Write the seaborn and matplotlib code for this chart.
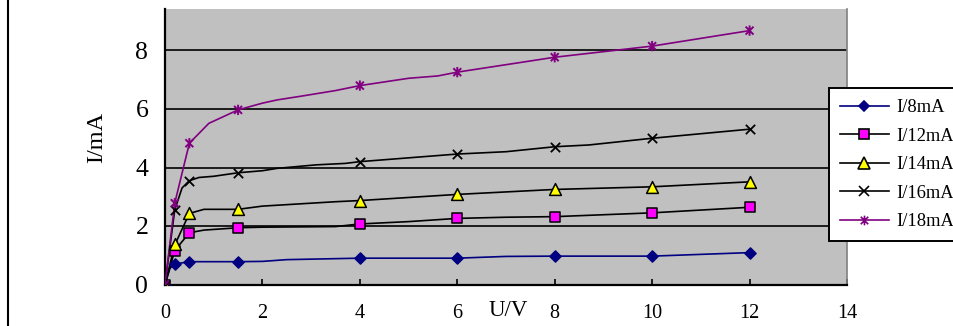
import matplotlib
matplotlib.use("Agg")
import matplotlib.pyplot as plt
import seaborn as sns
from matplotlib.lines import Line2D
from matplotlib.path import Path

# ---- data ----
mark_x = [0, 0.2, 0.5, 1.5, 4, 6, 8, 10, 12]

i8_y = [0, 0.70, 0.78, 0.78, 0.90, 0.90, 0.97, 0.97, 1.09]
i8_line_x = [0, 0.1, 0.2, 0.5, 1.5, 2.0, 2.5, 4, 6, 7, 8, 10, 12]
i8_line_y = [0, 0.55, 0.70, 0.78, 0.78, 0.79, 0.85, 0.90, 0.90, 0.96, 0.97, 0.97, 1.09]

i12_y = [0, 1.16, 1.77, 1.94, 2.07, 2.26, 2.32, 2.45, 2.64]
i12_line_x = [0, 0.2, 0.5, 0.8, 1.5, 2.0, 3.5, 4, 5, 6, 7, 8, 10, 12]
i12_line_y = [0, 1.16, 1.77, 1.86, 1.94, 1.96, 1.98, 2.07, 2.15, 2.26, 2.30, 2.32, 2.45, 2.64]

i14_y = [0, 1.40, 2.43, 2.57, 2.87, 3.08, 3.25, 3.34, 3.51]
i14_line_x = [0, 0.2, 0.5, 0.8, 1.5, 2.0, 3.5, 4, 6, 8, 10, 12]
i14_line_y = [0, 1.35, 2.43, 2.57, 2.57, 2.68, 2.83, 2.87, 3.08, 3.25, 3.34, 3.51]

i16_y = [0, 2.55, 3.55, 3.82, 4.20, 4.46, 4.71, 5.00, 5.31]
i16_line_x = [0, 0.2, 0.35, 0.5, 0.7, 1.0, 1.5, 2.0, 2.3, 3.1, 3.7, 4, 6, 7, 8, 8.7, 10, 12]
i16_line_y = [0, 2.55, 3.30, 3.55, 3.66, 3.70, 3.82, 3.89, 3.97, 4.09, 4.14, 4.20, 4.46, 4.54, 4.71, 4.77, 5.00, 5.31]

i18_y = [0, 2.78, 4.83, 5.97, 6.80, 7.26, 7.77, 8.15, 8.68]
i18_line_x = [0, 0.2, 0.5, 0.9, 1.5, 2.0, 2.3, 2.8, 3.5, 4, 5, 5.6, 6, 8, 10, 12]
i18_line_y = [0, 2.78, 4.83, 5.51, 5.97, 6.20, 6.31, 6.44, 6.63, 6.80, 7.05, 7.13, 7.26, 7.77, 8.15, 8.68]

labels = ["I/8mA", "I/12mA", "I/14mA", "I/16mA", "I/18mA"]
x_ticks = [0, 2, 4, 6, 8, 10, 12, 14]
y_ticks = [0, 2, 4, 6, 8]

# ---- styling ----
star = Path([(-1, -1), (1, 1), (-1, 1), (1, -1), (0, -1.3), (0, 1.3)],
            [Path.MOVETO, Path.LINETO, Path.MOVETO, Path.LINETO, Path.MOVETO, Path.LINETO])

series = [
    # line_x, line_y, marker_y, line color, marker, face, edge, scatter size, legend ms
    (i8_line_x, i8_line_y, i8_y, "#000080", "D", "#000080", "#000080", 32, 5.5),
    (i12_line_x, i12_line_y, i12_y, "#000000", "s", "#FF00FF", "#000000", 52, 7),
    (i14_line_x, i14_line_y, i14_y, "#000000", "^", "#FFFF00", "#000000", 72, 8),
    (i16_line_x, i16_line_y, i16_y, "#000000", "x", "#000000", "#000000", 45, 6.5),
    (i18_line_x, i18_line_y, i18_y, "#800080", star, "#800080", "#800080", 55, 7),
]

plt.rcParams["font.family"] = ["Liberation Serif", "DejaVu Serif"]

fig = plt.figure(figsize=(9.54, 3.26), dpi=100)
W, H = 954, 326
left, right, top, bottom = 165, 847, 9.3, 284.5
ax = fig.add_axes([left / W, 1 - bottom / H, (right - left) / W, (bottom - top) / H])
ax.set_facecolor("#C0C0C0")

for i, (lx, ly, my, lc, mk, fc, ec, s, ms) in enumerate(series):
    sns.lineplot(x=lx, y=ly, ax=ax, color=lc, lw=1.2, sort=False,
                 estimator=None, legend=False, zorder=3)
    if mk == "x":
        sns.scatterplot(x=mark_x, y=my, ax=ax, marker="x", s=s, color=fc,
                        linewidth=1.3, legend=False, zorder=4)
    elif mk is star:
        sns.scatterplot(x=mark_x, y=my, ax=ax, marker=mk, s=s, facecolor="none",
                        edgecolor=ec, linewidth=1.4, legend=False, zorder=4)
    else:
        sns.scatterplot(x=mark_x, y=my, ax=ax, marker=mk, s=s, color=fc,
                        edgecolor=ec, linewidth=1.1, legend=False, zorder=4)

ax.set_xlim(0, 14)
ax.set_ylim(0, (bottom - top) / 29.25)
ax.set_xticks(x_ticks)
ax.set_yticks(y_ticks)
ax.set_xticklabels([str(t) for t in x_ticks], fontsize=14.5)
ax.set_yticklabels([str(t) for t in y_ticks], fontsize=18.5)
ax.tick_params(axis="x", direction="in", length=4, width=1.2, pad=14, colors="black")
ax.tick_params(axis="y", length=0, pad=12)

ax.grid(axis="y", color="black", lw=1.2)
ax.grid(axis="x", visible=False)
ax.set_axisbelow(True)

for sp in ["left", "bottom"]:
    ax.spines[sp].set_color("black")
    ax.spines[sp].set_linewidth(1.6)
ax.spines["top"].set_visible(False)
ax.spines["right"].set_color("#808080")
ax.spines["right"].set_linewidth(1.2)

ax.set_xlabel("U/V", fontsize=16.5, va="center")
ax.xaxis.set_label_coords(343 / 682, (bottom - 311) / (bottom - top))
ax.set_ylabel("I/mA", fontsize=17.5, va="center")
ax.yaxis.set_label_coords((97 - left) / (right - left), (bottom - 137) / (bottom - top))

handles = []
for (lx, ly, my, lc, mk, fc, ec, s, ms), lab in zip(series, labels):
    handles.append(Line2D([], [], color=lc, lw=1.2, marker=mk, markersize=ms,
                          markerfacecolor=fc if mk is not star else "none",
                          markeredgecolor=ec, markeredgewidth=1.2))
leg = fig.legend(handles, labels, loc="upper left",
                 bbox_to_anchor=(828.7 / W, 1 - 88.3 / H),
                 bbox_transform=fig.transFigure, borderaxespad=0,
                 prop={"size": 13.3},
                 handlelength=2.65, handletextpad=0.4, labelspacing=0.62,
                 borderpad=0.6, frameon=True, fancybox=False, framealpha=1)
leg.get_frame().set_edgecolor("black")
leg.get_frame().set_linewidth(1.4)

fig.add_artist(Line2D([8.3 / W, 8.3 / W], [0, 1], color="black", lw=1.5,
                      transform=fig.transFigure))

fig.savefig("out.png", dpi=100)
